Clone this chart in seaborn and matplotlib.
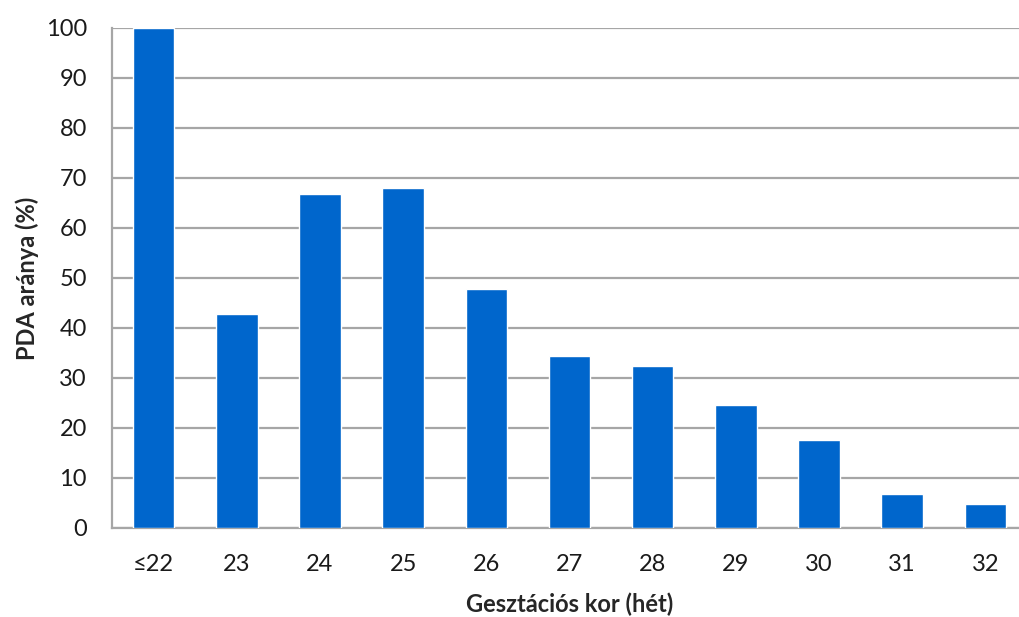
import pandas as pd
import seaborn as sns
import matplotlib.pyplot as plt

weeks = ['≤22', '23', '24', '25', '26', '27', '28', '29', '30', '31', '32']
pda_rate = [100, 42.9, 66.8, 68.0, 47.9, 34.5, 32.5, 24.6, 17.7, 6.9, 4.8]

df = pd.DataFrame({'week': weeks, 'rate': pda_rate})

sns.set_theme(style='white')
plt.rcParams['font.family'] = ['Lato', 'DejaVu Sans']

W, H = 1020, 617
fig = plt.figure(figsize=(W / 100, H / 100), dpi=100)
# plot area runs slightly past the right edge, like the original
ax = fig.add_axes([112 / W, 1 - 528 / H, (1027 - 112) / W, (528 - 28) / H])

sns.barplot(data=df, x='week', y='rate', color='#0066CC', saturation=1,
            width=0.5, ax=ax, zorder=3)

grid_col = '#A6A6A6'
ax.set_ylim(0, 100)
ax.set_xlim(-0.5, len(weeks) - 0.5)
ax.set_yticks(range(0, 101, 10))
ax.yaxis.grid(True, color=grid_col, linewidth=1.6, zorder=0)
ax.set_axisbelow(True)

for side in ['top', 'right']:
    ax.spines[side].set_visible(False)
for side in ['left', 'bottom']:
    ax.spines[side].set_color(grid_col)
    ax.spines[side].set_linewidth(1.6)

# category boundary ticks on x, left-side ticks on y
ax.set_xticks([i - 0.5 for i in range(len(weeks) + 1)], minor=True)
ax.tick_params(axis='x', which='minor', length=6, width=1.6, color=grid_col, direction='out')
ax.tick_params(axis='x', which='major', length=0, labelsize=17, pad=19, labelcolor='#1a1a1a')
ax.tick_params(axis='y', length=6, width=1.6, color=grid_col, direction='out',
               labelsize=17, pad=12, labelcolor='#1a1a1a')

ax.set_xlabel('Gesztációs kor (hét)', fontsize=17, fontweight='bold', labelpad=12)
ax.set_ylabel('PDA aránya (%)', fontsize=17, fontweight='bold', labelpad=5)

fig.savefig('out.png', dpi=100)
